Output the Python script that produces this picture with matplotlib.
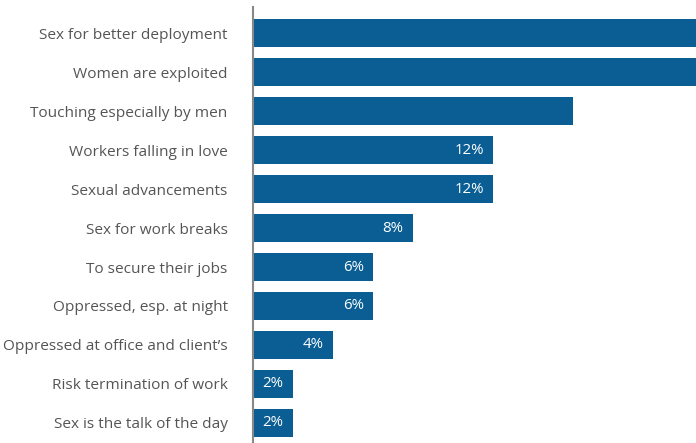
import matplotlib
matplotlib.use("Agg")
import matplotlib.pyplot as plt

categories = [
    "Sex for better deployment",
    "Women are exploited",
    "Touching especially by men",
    "Workers falling in love",
    "Sexual advancements",
    "Sex for work breaks",
    "To secure their jobs",
    "Oppressed, esp. at night",
    "Oppressed at office and client\u2019s",
    "Risk termination of work",
    "Sex is the talk of the day",
]
values = [30, 26, 16, 12, 12, 8, 6, 6, 4, 2, 2]
show_label = [False, False, False, True, True, True, True, True, True, True, True]

plt.rcParams["font.family"] = ["Open Sans", "DejaVu Sans"]

fig = plt.figure(figsize=(6.96, 4.43), dpi=100)
ax = fig.add_axes([252.7 / 696, 0.0, 1 - 252.7 / 696, 436 / 443])

bar_color = "#0a5e94"
ypos = list(range(len(categories)))[::-1]
ax.barh(ypos, values, height=0.72, color=bar_color)

for y, v, show in zip(ypos, values, show_label):
    if show:
        ax.text(v - 0.45, y, f"{v}%", color="white", ha="right", va="center",
                fontsize=10.8)

ax.set_xlim(0, (696 - 252.7) / 20)
ax.set_ylim(-0.513, 10.667)
ax.set_yticks(ypos)
ax.set_yticklabels(categories, fontsize=11.1, color="#555555")
ax.tick_params(axis="y", length=0, pad=18)
ax.set_xticks([])

for s in ["top", "right", "bottom"]:
    ax.spines[s].set_visible(False)
ax.spines["left"].set_color("#888888")
ax.spines["left"].set_linewidth(1.5)

fig.savefig("out.png", dpi=100)
